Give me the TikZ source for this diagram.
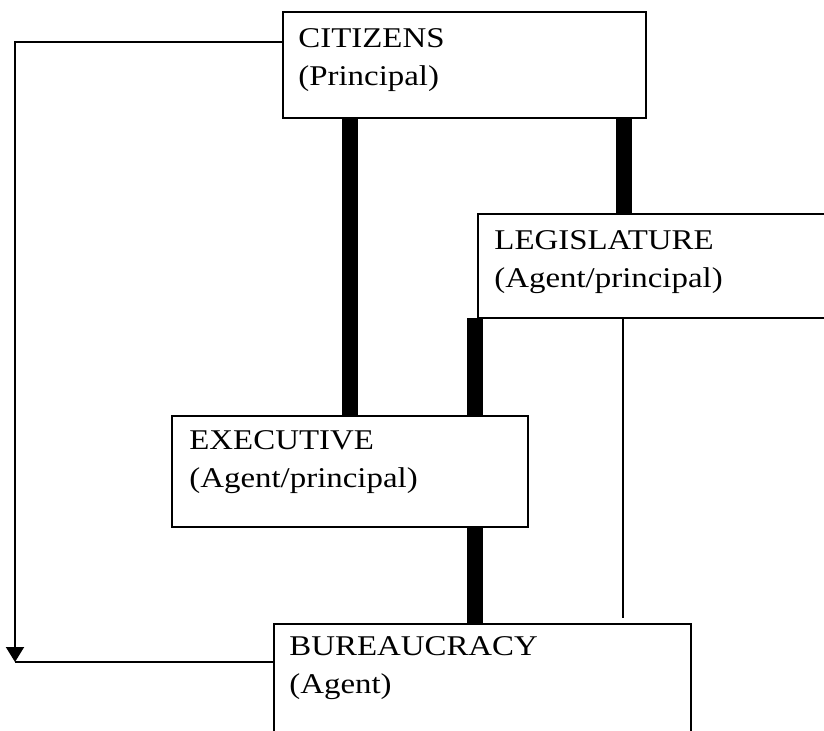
\documentclass[tikz,border=0pt]{standalone}
\usepackage{fontspec}
\setmainfont[FakeStretch=1.15]{Liberation Serif}
\usetikzlibrary{positioning,arrows.meta}

\begin{document}
\begin{tikzpicture}[x=0.5pt,y=-0.5pt,
            box/.style={draw,line width=1pt,rectangle,anchor=north west,
                inner sep=0pt,outer sep=0pt},
            lbl/.style={align=left,inner sep=0pt,
                font=\fontsize{14.3}{19}\selectfont},
            bar/.style={line width=8pt},
            thin/.style={line width=1pt}]
            \useasboundingbox (0,0) rectangle (824,731);
            \clip (0,0) rectangle (824,731);

            % boxes
            \node[box,minimum width=181.5pt,minimum height=53pt] (cit) at (283,12) {};
            \node[box,minimum width=211pt,minimum height=52pt] (leg) at (478,214) {};
            \node[box,minimum width=178pt,minimum height=55.5pt] (exe) at (172,416) {};
            \node[box,minimum width=208.5pt,minimum height=88pt] (bur) at (274,624) {};

            \node[lbl,below right=8pt and 7.5pt of cit.north west] (citt) {CITIZENS\\(Principal)};
            \node[lbl,below right=8pt and 8pt of leg.north west] (legt) {LEGISLATURE\\(Agent/principal)};
            \node[lbl,below right=7pt and 8.5pt of exe.north west] (exet) {EXECUTIVE\\(Agent/principal)};
            \node[lbl,below right=6pt and 7.5pt of bur.north west] (burt) {BUREAUCRACY\\(Agent)};

            % columns of the links
            \coordinate (xa) at (350,0);
            \coordinate (xb) at (624,0);
            \coordinate (xc) at (475,0);
            \coordinate (xd) at (623,0);

            \draw[bar] (cit.south -| xa) -- (exe.north -| xa);
            \draw[bar] (cit.south -| xb) -- (leg.north -| xb);
            \draw[bar] (leg.south -| xc) -- (exe.north -| xc);
            \draw[bar] (exe.south -| xc) -- (bur.north -| xc);
            \draw[thin] (leg.south -| xd) -- ([yshift=3pt]bur.north -| xd);

            % back to the bureaucracy
            \coordinate (cl) at (15,42);
            \coordinate (cd) at (15,662);
            \draw[thin,-{Triangle[width=9pt,length=7.5pt]}] (cit.west |- cl) -- (cl) -- (cd);
            \draw[thin] (bur.west |- cd) -- (cd);
\end{tikzpicture}
\end{document}
